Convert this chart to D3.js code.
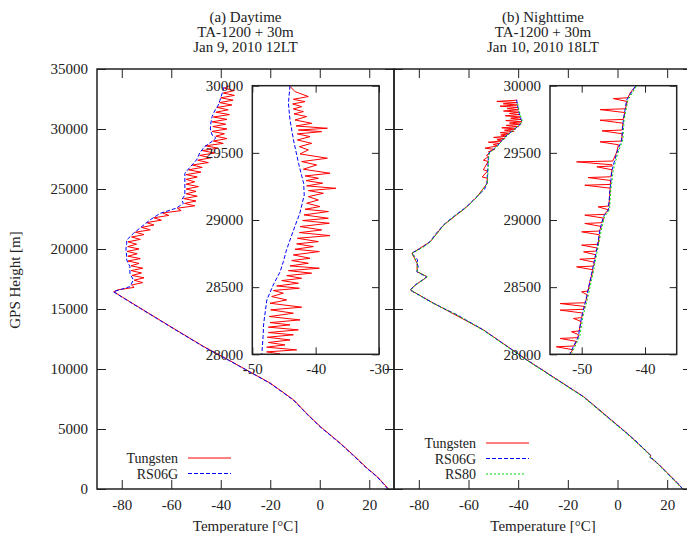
<!DOCTYPE html>
<html>
<head>
<meta charset="utf-8">
<script src="https://cdn.jsdelivr.net/npm/d3@7"></script>
<style>
body { margin: 0; background: #fff; }
svg text { font-family: "Liberation Serif", "DejaVu Serif", serif; font-size: 15px; fill: #222; }
svg text.leg { font-size: 14px; }
</style>
</head>
<body>
<svg id="svg" width="687" height="533"></svg>
<script>
// ---- data : [height m, temperature C] ----
// (a) daytime, main panel
var dayRS06G = [[0,27.6],[1000,23.2],[1725,19],[2800,13.5],[3800,8.2],[5190,0.1],[6300,-5.5],[7420,-10.7],[8810,-20.1],[10750,-37],[11860,-47],[13500,-60.2],[15060,-72.6],[16000,-80],[16440,-83.4],[16860,-76.7],[17420,-75.3],[17970,-76.7],[18530,-76.7],[19080,-78],[19360,-78],[20000,-78.3],[20470,-78],[20750,-78],[21300,-75.3],[22420,-68.6],[22970,-64.5],[23400,-58],[23800,-55.1],[24080,-55.8],[24500,-54.5],[25470,-54.5],[26310,-54.5],[26800,-52.5],[27420,-49.8],[28000,-48.5],[28500,-46.7],[29000,-43.3],[29250,-42],[29500,-43.5],[30000,-44.2],[30500,-44],[31030,-43.5],[31500,-42.5],[32000,-41],[32400,-40.3],[33250,-39],[33600,-38.5]];
var dayTungsten = [[0,27.8],[1000,23.4],[1725,19.2],[2800,13.7],[3800,8.4],[5190,0.3],[6300,-5.3],[7420,-10.5],[8810,-19.9],[10750,-36.8],[11860,-46.8],[13500,-60.0],[15060,-72.4],[16000,-79.8],[16440,-83.2],
  [16600,-81.5],[16800,-75.0],[17000,-76.0],[17200,-71.5],[17400,-75.0],[17600,-71.0],[17800,-75.8],[18000,-72.0],[18200,-76.2],[18400,-71.5],[18600,-76.3],[18800,-73.0],[19000,-77.5],[19200,-72.5],[19400,-77.5],[19600,-73.8],[19800,-77.8],[20000,-73.0],[20200,-77.6],[20400,-74.0],[20600,-77.5],[20800,-72.5],[21000,-76.0],[21200,-71.0],[21400,-74.5],[21600,-68.5],[21800,-72.0],[22000,-67.0],[22200,-70.0],[22400,-64.0],[22600,-67.0],[22800,-61.0],[23000,-63.5],[23200,-56.0],[23400,-57.5],[23600,-50.5],[23800,-54.6],[24000,-50.0],[24200,-55.0],[24400,-49.5],[24600,-54.0],[24800,-50.0],[25000,-54.0],[25200,-49.0],[25400,-54.0],[25600,-50.5],[25800,-54.0],[26000,-49.5],[26200,-54.0],[26400,-48.0],[26600,-53.0],[26800,-47.5],[27000,-51.5],[27200,-45.0],[27400,-49.3],[27600,-44.0],[27800,-48.5],[28000,-42.5],[28200,-47.5],[28400,-41.0],[28600,-46.2],[28800,-39.0],[29000,-43.0],[29200,-37.5],[29400,-42.0],[29600,-38.5],[29800,-43.5],[30000,-37.5],[30200,-43.2],[30400,-38.0],[30600,-43.5],[30800,-37.5],[31000,-43.0],[31200,-36.5],[31400,-42.0],[31600,-37.0],[31800,-41.5],[32000,-35.5],[32200,-40.5],[32400,-35.0],[32600,-40.0],[32800,-34.5],[33000,-39.0],[33200,-34.5],[33400,-38.5],[33600,-36.5]];

// (a) daytime, inset 28000-30000 m
var dayInsetRS06G = [[30000,-44.05],[29869,-44.3],[29745,-44.05],[29596,-43.5],[29422,-42.7],[29273,-41.9],[29186,-41.8],[29050,-42.5],[28950,-43.3],[28851,-44.05],[28777,-44.6],[28690,-45.1],[28615,-45.6],[28516,-46.7],[28405,-47.7],[28231,-48.2],[28131,-48.3],[28000,-48.5]];
var dayInsetTungsten = [[29995,-44.05],[29956,-43.26],[29919,-41.15],[29899,-43.52],[29881,-41.68],[29864,-43.63],[29844,-42.21],[29827,-43.52],[29807,-41.94],[29790,-43.42],[29770,-41.42],[29745,-43.26],[29720,-40.63],[29700,-43.10],[29683,-38.15],[29670,-42.73],[29658,-39.05],[29641,-42.89],[29621,-40.89],[29596,-42.89],[29571,-40.63],[29546,-42.57],[29522,-41.15],[29492,-42.47],[29460,-38.15],[29435,-42.21],[29410,-39.84],[29378,-41.94],[29348,-37.73],[29328,-41.68],[29311,-39.57],[29293,-41.52],[29274,-38.89],[29254,-41.42],[29236,-36.79],[29219,-41.15],[29199,-38.78],[29174,-41.15],[29149,-39.57],[29125,-41.42],[29100,-39.31],[29080,-41.68],[29063,-37.99],[29038,-41.84],[29013,-37.99],[28996,-42.05],[28976,-37.84],[28951,-42.47],[28926,-39.05],[28906,-42.57],[28884,-37.73],[28864,-42.89],[28839,-39.57],[28822,-43.00],[28802,-40.36],[28782,-43.26],[28765,-39.42],[28740,-43.52],[28715,-40.89],[28698,-43.78],[28678,-41.15],[28658,-44.05],[28641,-39.42],[28623,-44.31],[28604,-40.63],[28586,-44.57],[28566,-42.21],[28549,-45.36],[28529,-42.73],[28509,-46.15],[28492,-42.57],[28475,-46.68],[28455,-45.10],[28430,-46.94],[28405,-44.57],[28380,-47.20],[28351,-42.21],[28331,-47.10],[28306,-43.52],[28281,-47.31],[28256,-42.47],[28236,-47.20],[28219,-44.05],[28202,-47.47],[28182,-42.73],[28162,-47.47],[28145,-43.52],[28127,-47.63],[28107,-44.05],[28088,-47.47],[28070,-44.84],[28053,-47.73],[28033,-43.00],[28018,-47.73],[28003,-45.63]];

// (b) nighttime, main panel
var nightRS06G = [[0,26.3],[500,24.2],[1000,21.6],[1500,19.2],[2000,16.8],[2500,14.3],[2650,12.9],[2800,13.3],[3000,12.4],[4000,7.4],[4640,3.8],[5750,-2.6],[6700,-8],[7690,-13.7],[9000,-23.5],[10750,-36.5],[12000,-45.3],[13250,-54],[14500,-64.5],[15475,-74.1],[16580,-83.5],[17000,-81.5],[17420,-78.5],[17690,-76.8],[17900,-79],[18110,-80.8],[18530,-80.2],[18810,-80.8],[19080,-80.5],[19360,-81.5],[19640,-82.9],[20190,-78.2],[20610,-75.5],[21300,-73],[22000,-70.1],[22690,-66.1],[23530,-60.7],[24360,-56.6],[25000,-53.5],[25470,-52.6],[26500,-52.3],[27690,-52],[28000,-51.8],[28530,-48.7],[29000,-46.8],[29500,-44.5],[29920,-41.9],[30300,-39.5],[30610,-38.5],[31000,-39.2],[31580,-39.9],[32275,-40.5],[32450,-40.6]];
var nightRS80 = [[0,26.1],[1000,21.4],[2000,16.6],[2500,14.1],[2650,13.0],[2800,13.1],[3000,12.2],[4640,3.6],[5750,-2.8],[7690,-13.9],[9000,-23.7],[10750,-36.7],[12000,-45.5],[13250,-54.2],[14500,-64.7],[15475,-74.3],[16580,-83.3],[17000,-81.3],[17420,-78.3],[17690,-76.6],[18110,-80.6],[18810,-80.6],[19640,-82.7],[20190,-78.0],[20610,-75.3],[22000,-69.9],[22690,-65.9],[23530,-60.5],[24360,-56.4],[25470,-52.4],[27690,-51.8],[28000,-51.6],[28530,-48.5],[29000,-46.6],[29500,-44.3],[29920,-41.7],[30610,-38.3],[31580,-39.7],[32275,-40.3]];
var nightTungsten = [[0,26.4],[1000,21.7],[2000,16.9],[2650,13.1],[2800,13.4],[4640,3.9],[7690,-13.6],[10750,-36.4],[13250,-53.9],[15475,-74.0],[16580,-83.4],[17000,-81.4],[17420,-78.4],[17690,-76.7],[18110,-80.7],[18810,-80.7],[19640,-82.8],[20610,-75.4],[22000,-70.0],[23530,-60.6],[24360,-56.5],[25470,-52.5],
  [25900,-52.4],[26000,-54.5],[26500,-52.3],[26600,-54.0],[27300,-52.1],[27400,-54.0],[27700,-52.0],[27800,-52.8],[28000,-51.5],[28100,-52.0],[28300,-49.5],[28400,-53.3],[28600,-48.3],[28700,-50.0],[28800,-47.3],[28900,-52.0],[29000,-46.6],[29100,-48.5],[29200,-45.4],[29300,-49.9],[29400,-44.5],[29500,-47.0],[29600,-43.5],[29700,-47.3],[29800,-41.6],[29900,-45.5],[30000,-41.0],[30100,-46.6],[30200,-39.8],[30300,-44.8],[30400,-39.0],[30500,-43.5],[30600,-38.5],[30700,-45.0],[30800,-38.8],[30900,-43.0],[31000,-39.2],[31100,-45.2],[31200,-39.5],[31300,-43.5],[31400,-39.7],[31500,-45.9],[31600,-39.9],[31700,-44.5],[31800,-40.1],[31900,-47.3],[32000,-40.3],[32100,-46.0],[32200,-40.4],[32300,-48.6],[32400,-40.6]];

// (b) nighttime, inset 28000-30000 m
var nightInsetRS06G = [[29993,-41.58],[29894,-42.90],[29745,-43.42],[29596,-43.69],[29497,-44.48],[29373,-45.21],[29224,-45.53],[29075,-45.79],[29025,-46.58],[28926,-47.11],[28777,-47.63],[28604,-48.42],[28430,-49.21],[28281,-50.00],[28132,-50.53],[28008,-51.84]];
var nightInsetRS80 = [[29993,-41.4],[29894,-42.7],[29745,-43.3],[29596,-43.5],[29497,-44.3],[29373,-45.0],[29224,-45.4],[29075,-45.6],[29025,-46.4],[28926,-46.9],[28777,-47.5],[28604,-48.2],[28430,-49.0],[28281,-49.8],[28132,-50.3],[28008,-51.6]];
var nightInsetTungsten = [[29995,-41.5],[29950,-42.3],
  [29910,-42.7],[29904,-45.0],[29882,-42.8],[29828,-43.1],[29822,-47.1],[29800,-43.2],
  [29749,-43.4],[29743,-47.1],[29721,-43.5],[29670,-43.6],[29664,-46.8],[29642,-43.6],
  [29588,-43.7],[29582,-47.1],[29560,-44.2],[29500,-44.5],
  [29439,-45.1],[29433,-50.8],[29411,-45.2],[29402,-45.2],[29396,-47.6],[29374,-45.2],
  [29322,-45.4],[29316,-49.0],[29294,-45.4],[29265,-45.5],[29259,-49.5],[29237,-45.5],
  [29104,-45.7],[29098,-47.4],[29076,-45.8],[29042,-46.4],[29036,-49.5],[29014,-46.5],
  [28980,-46.8],[28974,-49.5],[28952,-46.9],[28918,-47.2],[28912,-50.0],[28890,-47.2],
  [28819,-47.4],[28813,-50.0],[28791,-47.5],[28769,-47.7],[28763,-49.7],[28741,-47.8],
  [28714,-47.9],[28708,-50.3],[28686,-48.0],[28657,-48.1],[28651,-50.8],[28629,-48.2],
  [28540,-48.7],[28471,-49.0],[28465,-50.0],[28443,-49.1],
  [28384,-49.4],[28378,-53.4],[28356,-49.5],[28335,-49.7],[28329,-53.4],[28307,-49.8],
  [28273,-50.0],[28267,-51.3],[28245,-50.1],[28174,-50.4],[28168,-51.6],[28146,-50.5],
  [28124,-50.6],[28118,-53.4],[28096,-50.8],[28062,-51.2],[28056,-54.0],[28034,-51.4],
  [28000,-51.9]];

// ticks
var mainXTicks = [-80, -60, -40, -20, 0, 20];
var mainYTicks = [0, 5000, 10000, 15000, 20000, 25000, 30000, 35000];
var insetYTicks = [28000, 28500, 29000, 29500, 30000];
var dayInsetXTicks = [-50, -40, -30];
var nightInsetXTicks = [-50, -40];

var titlesA = ["(a) Daytime", "TA-1200 + 30m", "Jan 9, 2010 12LT"];
var titlesB = ["(b) Nighttime", "TA-1200 + 30m", "Jan 10, 2010 18LT"];

var INK = "#222";
var svg = d3.select("#svg");
var defs = svg.append("defs");
var clipN = 0;

function clip(x0, y0, w, h) {
	var id = "clip" + (clipN++);
	defs.append("clipPath").attr("id", id).append("rect")
		.attr("x", x0).attr("y", y0).attr("width", w).attr("height", h);
	return id;
}

// gnuplot like frame : ticks inside on all four sides
function frameAxes(g, x, y, o) {
	var xa = x.range()[0], xb = x.range()[1];
	var yb = y.range()[0], ya = y.range()[1];
	var fmt = function(d) { return String(d); };
	g.append("g").attr("transform", "translate(0," + yb + ")")
		.call(d3.axisBottom(x).tickValues(o.xt).tickSize(-o.tk).tickPadding(o.xpad).tickFormat(o.xlab ? fmt : ""));
	g.append("g").attr("transform", "translate(0," + ya + ")")
		.call(d3.axisTop(x).tickValues(o.xt).tickSize(-o.tk).tickFormat(""));
	g.append("g").attr("transform", "translate(" + xa + ",0)")
		.call(d3.axisLeft(y).tickValues(o.yt).tickSize(-o.tk).tickPadding(o.ypad).tickFormat(o.ylab ? fmt : ""));
	g.append("g").attr("transform", "translate(" + xb + ",0)")
		.call(d3.axisRight(y).tickValues(o.yt).tickSize(-o.tk).tickFormat(""));
	g.selectAll(".domain").remove();
	g.selectAll(".tick line").attr("stroke", INK);
	g.append("rect").attr("x", xa).attr("y", ya).attr("width", xb - xa).attr("height", yb - ya)
		.attr("fill", "none").attr("stroke", INK).attr("stroke-width", 1.5);
}

function series(g, x, y, data, color, dash, clipId) {
	var line = d3.line().x(function(d) { return x(d[1]); }).y(function(d) { return y(d[0]); });
	g.append("path").datum(data)
		.attr("clip-path", "url(#" + clipId + ")")
		.attr("fill", "none")
		.attr("stroke", color)
		.attr("stroke-width", 1)
		.attr("stroke-dasharray", dash)
		.attr("d", line);
}

function text(g, x, y, s, anchor) {
	return g.append("text").attr("x", x).attr("y", y).text(s)
		.attr("text-anchor", anchor || "middle");
}

function panel(p) {
	var g = svg.append("g");
	var x = d3.scaleLinear().domain([-90, 30]).range([p.x0, p.x1]);
	var y = d3.scaleLinear().domain([0, 35000]).range([489, 69]);
	var cid = clip(p.x0, 69, p.x1 - p.x0, 420);

	series(g, x, y, p.tung, "#ff0000", null, cid);
	series(g, x, y, p.rs06, "#0000ff", "4,2", cid);
	if (p.rs80) series(g, x, y, p.rs80, "#00dd00", "2,2", cid);

	frameAxes(g, x, y, { xt: mainXTicks, yt: mainYTicks, tk: 9, xpad: 10, ypad: 9, xlab: true, ylab: p.ylab });

	// inset
	var gi = svg.append("g");
	var xi = d3.scaleLinear().domain(p.insetDomain).range([p.ix0, p.ix0 + 126.7]);
	var yi = d3.scaleLinear().domain([28000, 30000]).range([354.3, 85.7]);
	gi.append("rect").attr("x", p.ix0).attr("y", 85.7).attr("width", 126.7).attr("height", 268.6).attr("fill", "#fff");
	var icid = clip(p.ix0, 85.7, 126.7, 268.6);
	series(gi, xi, yi, p.itung, "#ff0000", null, icid);
	series(gi, xi, yi, p.irs06, "#0000ff", "4,2", icid);
	if (p.irs80) series(gi, xi, yi, p.irs80, "#00dd00", "2,2", icid);
	frameAxes(gi, xi, yi, { xt: p.insetXTicks, yt: insetYTicks, tk: 7, xpad: 9, ypad: 9, xlab: true, ylab: true });

	// titles and axis label
	var cx = (p.x0 + p.x1) / 2;
	p.titles.forEach(function(t, i) { text(svg, cx, 21.5 + i * 15, t); });
	text(svg, cx, 531, "Temperature [\u00B0C]");

	// legend
	p.legend.forEach(function(l, i) {
		var ly = p.ly + i * 15.5;
		text(svg, p.lx, ly + 5, l.name, "end").attr("class", "leg");
		svg.append("line").attr("x1", p.lx + 10).attr("x2", p.lx + 10 + l.len)
			.attr("y1", ly).attr("y2", ly)
			.attr("stroke", l.color).attr("stroke-width", 1).attr("stroke-dasharray", l.dash);
	});
}

panel({
	x0: 97, x1: 394, ylab: true,
	tung: dayTungsten, rs06: dayRS06G,
	insetDomain: [-50, -30], ix0: 252.3, insetXTicks: dayInsetXTicks,
	itung: dayInsetTungsten, irs06: dayInsetRS06G,
	titles: titlesA,
	lx: 178, ly: 458,
	legend: [
		{ name: "Tungsten", color: "#ff0000", dash: null, len: 43 },
		{ name: "RS06G", color: "#0000ff", dash: "4,2", len: 43 }
	]
});

panel({
	x0: 394, x1: 692, ylab: false,
	tung: nightTungsten, rs06: nightRS06G, rs80: nightRS80,
	insetDomain: [-55, -35], ix0: 550, insetXTicks: nightInsetXTicks,
	itung: nightInsetTungsten, irs06: nightInsetRS06G, irs80: nightInsetRS80,
	titles: titlesB,
	lx: 476, ly: 443,
	legend: [
		{ name: "Tungsten", color: "#ff0000", dash: null, len: 43 },
		{ name: "RS06G", color: "#0000ff", dash: "4,2", len: 43 },
		{ name: "RS80", color: "#00dd00", dash: "2,2", len: 40 }
	]
});

// y axis label
svg.append("text").attr("transform", "translate(20,280) rotate(-90)")
	.attr("text-anchor", "middle")
	.text("GPS Height [m]");
</script>
</body>
</html>
